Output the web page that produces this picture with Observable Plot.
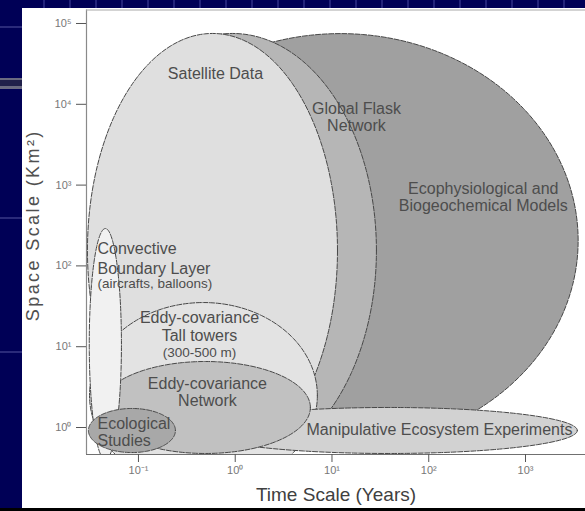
<!DOCTYPE html>
<html><head><meta charset="utf-8">
<script src="https://cdn.jsdelivr.net/npm/d3@7"></script>
<script src="https://cdn.jsdelivr.net/npm/@observablehq/plot@0.6"></script>
<style>
html,body{margin:0;padding:0;width:585px;height:511px;overflow:hidden;background:#000056;}
#bgtop{position:absolute;left:0;top:0;width:585px;height:8px;background:repeating-linear-gradient(90deg,#000056 0 17px,#23237a 17px 19px,#000056 19px 26px);}
#bgleft{position:absolute;left:0;top:0;width:22px;height:511px;background:linear-gradient(180deg,#000056 0 26px,#2a2a7a 26px 28px,#000056 28px 78px,#6a6a80 78px 80px,#20204a 80px 86px,#6a6a80 86px 89px,#000056 89px 217px,#2a2a7a 217px 219px,#000056 219px 351px,#2a2a7a 351px 353px,#000056 353px 511px);}
#panel{position:absolute;left:22px;top:8px;width:563px;height:500px;background:#fff;}
#foot{position:absolute;left:0;top:508px;width:585px;height:3px;background:#000;}
#chart{position:absolute;left:0;top:0;}
.ylab text{letter-spacing:2.4px;}
</style></head><body>
<div id="bgtop"></div><div id="bgleft"></div><div id="panel"></div><div id="foot"></div>
<div id="chart"></div>
<script>
// ---- data (time in years, space in km²) ----
const timeDomain = [0.02904, 4169];
const spaceDomain = [0.4634, 146900];
const timeTicks = [0.1, 1, 10, 100, 1000];
const spaceTicks = [1, 10, 100, 1000, 10000, 100000];

const shapeNames = [
  "Ecophysiological and Biogeochemical Models",
  "Global Flask Network",
  "Satellite Data",
  "Eddy-covariance Tall towers",
  "Manipulative Ecosystem Experiments",
  "Eddy-covariance Network",
  "Convective Boundary Layer",
  "Ecological Studies"
];
const timeMin  = [0.0425, 0.0304, 0.0297, 0.0312, 0.437, 0.0405, 0.0310, 0.0304];
const timeMax  = [3500,   28.8,   11.4,   7.06,   3430,  5.98,   0.0667, 0.241];
const spaceMin = [0.565,  0.32,   0.32,   0.176,  0.477, 0.477,  0.40,   0.49];
const spaceMax = [75000,  75300,  75300,  35.2,   1.77,  6.56,   290,    1.72];

const labelText = ["Satellite Data", "Global Flask\nNetwork", "Ecophysiological and\nBiogeochemical Models",
  "Convective\nBoundary Layer", "(aircrafts, balloons)", "Eddy-covariance\nTall towers", "(300-500 m)",
  "Eddy-covariance\nNetwork", "Ecological\nStudies", "Manipulative Ecosystem Experiments"];
const labelTime  = [0.6245, 17.9, 366, 0.0377, 0.0377, 0.427, 0.427, 0.516, 0.0377, 129];
const labelSpace = [24050, 6970, 712, 127, 59.7, 17.8, 8.36, 2.75, 0.88, 0.944];

// ---- styles ----
const shapeFill = {
  "Ecophysiological and Biogeochemical Models": "#a0a0a0",
  "Global Flask Network": "#b6b6b6",
  "Satellite Data": "#dfdfdf",
  "Eddy-covariance Tall towers": "#e3e3e3",
  "Manipulative Ecosystem Experiments": "#d2d2d2",
  "Eddy-covariance Network": "#c1c1c1",
  "Convective Boundary Layer": "#f1f1f1",
  "Ecological Studies": "#a8a8a8"
};

// ellipse outlines in log-log space, built from each shape's extent
const N = 200;
const outlines = shapeNames.map((name, i) => {
  const x0 = Math.log10(timeMin[i]), x1 = Math.log10(timeMax[i]);
  const y0 = Math.log10(spaceMin[i]), y1 = Math.log10(spaceMax[i]);
  const cx = (x0 + x1) / 2, rx = (x1 - x0) / 2, cy = (y0 + y1) / 2, ry = (y1 - y0) / 2;
  return d3.range(N + 1).map(k => {
    const a = 2 * Math.PI * k / N;
    return {name, t: 10 ** (cx + rx * Math.cos(a)), s: 10 ** (cy + ry * Math.sin(a))};
  });
});

const labels = labelText.map((text, i) => ({text, t: labelTime[i], s: labelSpace[i], i}));
const supMap = {"-": "⁻", "0": "⁰", "1": "¹", "2": "²", "3": "³", "4": "⁴", "5": "⁵"};
const fmt = d => "10" + String(Math.round(Math.log10(d))).split("").map(c => supMap[c]).join("");

const txt = "#4d4d4d";
const pick = idx => labels.filter(d => idx.includes(d.i));

const chart = Plot.plot({
  width: 585, height: 511,
  marginLeft: 86, marginRight: 0, marginTop: 9.5, marginBottom: 57,
  style: {background: "transparent", fontFamily: "'Liberation Sans', Arial, sans-serif", overflow: "visible"},
  x: {type: "log", domain: timeDomain},
  y: {type: "log", domain: spaceDomain},
  marks: [
    ...outlines.map(pts => Plot.line(pts, {
      x: "t", y: "s", fill: shapeFill[pts[0].name], stroke: "#474747",
      strokeWidth: 1, strokeDasharray: "5,1.6", curve: "linear", clip: true
    })),
    Plot.ruleX([timeDomain[0]], {stroke: "#8a8a8a", strokeWidth: 1.2}),
    Plot.ruleY([spaceDomain[1]], {stroke: "#a8a8a8", strokeWidth: 1.2}),
    Plot.ruleY([spaceDomain[0]], {stroke: "#707070", strokeWidth: 1.2}),
    Plot.axisY({ticks: spaceTicks, tickFormat: fmt, tickSize: 10, tickPadding: 5, fontSize: 11, color: "#777", stroke: "#555", label: null}),
    Plot.axisX({ticks: timeTicks, tickFormat: fmt, tickSize: 8, tickPadding: 4, fontSize: 11, color: "#777", stroke: "#555", label: null}),
    Plot.text(pick([0, 1, 2, 5, 7, 9]), {x: "t", y: "s", text: "text", fill: txt, fontSize: 16, lineHeight: 1.08, textAnchor: "middle"}),
    Plot.text(pick([3]), {x: "t", y: "s", text: "text", fill: txt, fontSize: 16, lineHeight: 1.25, textAnchor: "start"}),
    Plot.text(pick([8]), {x: "t", y: "s", text: "text", fill: txt, fontSize: 16, lineHeight: 1.06, textAnchor: "start"}),
    Plot.text(pick([4]), {x: "t", y: "s", text: "text", fill: txt, fontSize: 13.5, textAnchor: "start"}),
    Plot.text(pick([6]), {x: "t", y: "s", text: "text", fill: txt, fontSize: 13.5, textAnchor: "middle"}),
    Plot.text(["Space Scale (Km²)"], {frameAnchor: "left", dx: -53, dy: -7, rotate: -90, fill: "#505050", fontSize: 18, textAnchor: "middle", className: "ylab"}),
    Plot.text(["Time Scale (Years)"], {frameAnchor: "bottom", dy: 46, fill: "#404040", fontSize: 19, textAnchor: "middle"})
  ]
});
document.getElementById("chart").appendChild(chart);
</script>
</body></html>
